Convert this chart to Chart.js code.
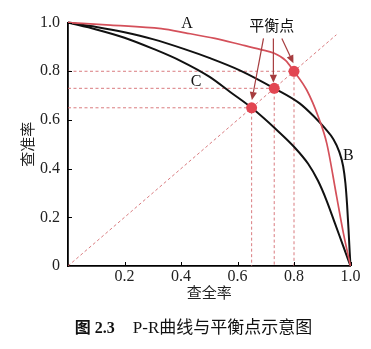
<!DOCTYPE html>
<html>
<head>
<meta charset="utf-8">
<script src="https://cdn.jsdelivr.net/npm/chart.js@4.4.1/dist/chart.umd.min.js"></script>
<style>
  html, body { margin: 0; padding: 0; background: #fff; }
  #wrap { width: 371px; height: 349px; position: relative; }
</style>
</head>
<body>
<div id="wrap"><canvas id="pr" width="371" height="349"></canvas></div>
<script>
// P-R curves (recall on x, precision on y)
const recallA    = [0, 0.15, 0.33, 0.415, 0.52, 0.61, 0.68, 0.73, 0.77, 0.80, 0.845, 0.886, 0.916, 0.951, 0.975, 1.0];
const precisionA = [1.0, 0.99, 0.975, 0.958, 0.935, 0.91, 0.89, 0.874, 0.845, 0.80, 0.723, 0.613, 0.504, 0.285, 0.134, 0];

const recallB    = [0, 0.1, 0.2, 0.3, 0.415, 0.5, 0.61, 0.73, 0.82, 0.87, 0.91, 0.94, 0.96, 0.974, 0.982, 0.988, 0.993, 0.997, 1.0];
const precisionB = [1.0, 0.982, 0.96, 0.932, 0.89, 0.855, 0.803, 0.73, 0.668, 0.615, 0.565, 0.52, 0.47, 0.41, 0.34, 0.25, 0.15, 0.06, 0];

const recallC    = [0, 0.1, 0.2, 0.3, 0.4, 0.5, 0.574, 0.65, 0.739, 0.80, 0.85, 0.885, 0.915, 0.945, 0.972, 1.0];
const precisionC = [1.0, 0.972, 0.938, 0.893, 0.842, 0.778, 0.715, 0.65, 0.559, 0.49, 0.42, 0.35, 0.27, 0.175, 0.089, 0];

// Break-even points (precision = recall) of C, B and A
const breakEven = [0.65, 0.73, 0.80];

// Reference diagonal P = R
const diagonalEnd = 0.95;

// Tick labels
const xTickLabels = ['', '0.2', '0.4', '0.6', '0.8', '1.0'];
const yTickLabels = ['0', '0.2', '0.4', '0.6', '0.8', '1.0'];

// Curve names and their anchor positions (data units)
const curveNames = ['A', 'B', 'C'];
const curveNameAt = [[0.421, 0.994], [0.992, 0.453], [0.453, 0.756]];

// Callout text and its arrows (data units)
const calloutText = '平衡点';
const calloutAt = [0.721, 0.99];
const arrowFrom = [[0.692, 0.935], [0.727, 0.935], [0.757, 0.935]];
const arrowTo   = [[0.651, 0.682], [0.727, 0.753], [0.798, 0.833]];

const captionBold = '图 2.3';
const captionText = 'P-R曲线与平衡点示意图';

const RED = '#d4505a';
const DOT = '#e24652';
const GUIDE = 'rgba(210, 100, 104, 0.85)';
const ARROW = '#a63c3e';
const SERIF = '"Liberation Serif", "Times New Roman", serif';
const CJK = '"Noto Sans CJK SC", sans-serif';

const toPoints = (xs, ys) => xs.map((v, i) => ({ x: v, y: ys[i] }));

const guideSets = breakEven.map(b => ({
  data: [{ x: 0, y: b }, { x: b, y: b }, { x: b, y: 0 }],
  showLine: true, borderColor: GUIDE, borderWidth: 1, borderDash: [3, 2.5],
  pointRadius: 0, order: 3, clip: false
}));

const curveStyle = (color, width) => ({
  showLine: true, borderColor: color, borderWidth: width, pointRadius: 0,
  cubicInterpolationMode: 'monotone', order: 1, clip: false, fill: false
});

function drawArrow(ctx, x0, y0, x1, y1) {
  const ang = Math.atan2(y1 - y0, x1 - x0);
  const len = 8, half = 3.6;
  const bx = x1 - len * Math.cos(ang), by = y1 - len * Math.sin(ang);
  ctx.beginPath();
  ctx.moveTo(x0, y0);
  ctx.lineTo(bx, by);
  ctx.stroke();
  ctx.beginPath();
  ctx.moveTo(x1, y1);
  ctx.lineTo(bx + half * Math.sin(ang), by - half * Math.cos(ang));
  ctx.lineTo(bx - half * Math.sin(ang), by + half * Math.cos(ang));
  ctx.closePath();
  ctx.fill();
}

const decorations = {
  id: 'decorations',
  afterDatasetsDraw(chart) {
    const { ctx, scales: { x, y } } = chart;
    ctx.save();
    // inward tick marks
    ctx.strokeStyle = '#000';
    ctx.lineWidth = 1;
    x.ticks.forEach(t => {
      if (t.value === 0) return;
      const px = Math.round(x.getPixelForValue(t.value)) + 0.5;
      ctx.beginPath(); ctx.moveTo(px, y.bottom); ctx.lineTo(px, y.bottom - 4); ctx.stroke();
    });
    y.ticks.forEach(t => {
      if (t.value === 0) return;
      const py = Math.round(y.getPixelForValue(t.value)) + 0.5;
      ctx.beginPath(); ctx.moveTo(x.left, py); ctx.lineTo(x.left + 4, py); ctx.stroke();
    });

    // curve names
    ctx.fillStyle = '#111';
    ctx.font = '16px ' + SERIF;
    ctx.textAlign = 'center';
    ctx.textBaseline = 'middle';
    curveNames.forEach((n, i) => {
      ctx.fillText(n, x.getPixelForValue(curveNameAt[i][0]), y.getPixelForValue(curveNameAt[i][1]));
    });

    // callout and arrows
    ctx.font = '15px ' + CJK;
    ctx.fillText(calloutText, x.getPixelForValue(calloutAt[0]), y.getPixelForValue(calloutAt[1]));
    ctx.strokeStyle = ARROW;
    ctx.fillStyle = ARROW;
    ctx.lineWidth = 1.2;
    arrowFrom.forEach((f, i) => {
      drawArrow(ctx,
        x.getPixelForValue(f[0]), y.getPixelForValue(f[1]),
        x.getPixelForValue(arrowTo[i][0]), y.getPixelForValue(arrowTo[i][1]));
    });
    ctx.restore();
  },
  afterDraw(chart) {
    const { ctx } = chart;
    ctx.save();
    ctx.fillStyle = '#111';
    ctx.textBaseline = 'middle';
    ctx.textAlign = 'left';
    const boldFont = 'bold 16px "Liberation Serif", ' + CJK;
    const normFont = '17px "Liberation Serif", ' + CJK;
    ctx.font = boldFont;
    const w1 = ctx.measureText(captionBold).width;
    ctx.font = normFont;
    const w2 = ctx.measureText(captionText).width;
    const gap = 18;
    const total = w1 + gap + w2;
    const x0 = 193.5 - total / 2;
    const yc = 329;
    ctx.font = boldFont;
    ctx.fillText(captionBold, x0, yc);
    ctx.font = normFont;
    ctx.fillText(captionText, x0 + w1 + gap, yc);
    ctx.restore();
  }
};

new Chart(document.getElementById('pr'), {
  type: 'scatter',
  data: {
    datasets: [
      { data: breakEven.map(b => ({ x: b, y: b })), showLine: false,
        pointRadius: 5.5, pointHoverRadius: 5.5, pointBackgroundColor: DOT,
        pointBorderWidth: 0, order: 0, clip: false },
      { data: toPoints(recallA, precisionA), ...curveStyle(RED, 1.7) },
      { data: toPoints(recallB, precisionB), ...curveStyle('#111', 2) },
      { data: toPoints(recallC, precisionC), ...curveStyle('#111', 2) },
      { data: [{ x: 0, y: 0 }, { x: diagonalEnd, y: diagonalEnd }],
        showLine: true, borderColor: GUIDE, borderWidth: 1, borderDash: [3, 2.5],
        pointRadius: 0, order: 3, clip: false },
      ...guideSets
    ]
  },
  options: {
    responsive: false,
    animation: false,
    devicePixelRatio: 1,
    layout: { padding: { left: 0, right: 20.5, top: 22.6, bottom: 0 } },
    plugins: { legend: { display: false }, tooltip: { enabled: false } },
    scales: {
      x: {
        type: 'linear', min: 0, max: 1,
        afterFit: s => { s.height = 83; },
        grid: { display: false, drawTicks: false },
        border: { display: true, color: '#000', width: 1.8 },
        ticks: {
          stepSize: 0.2, padding: 1, maxRotation: 0, color: '#222',
          font: { family: SERIF, size: 16 },
          callback: (v, i) => xTickLabels[i]
        },
        title: {
          display: true, text: '查全率', color: '#222',
          font: { family: CJK, size: 15 },
          padding: { top: 0, bottom: 48 }
        }
      },
      y: {
        type: 'linear', min: 0, max: 1,
        afterFit: s => { s.width = 68; },
        grid: { display: false, drawTicks: false },
        border: { display: true, color: '#000', width: 1.8 },
        ticks: {
          stepSize: 0.2, padding: 8, color: '#222',
          font: { family: SERIF, size: 16 },
          callback: (v, i) => yTickLabels[i]
        },
        title: {
          display: true, text: '查准率', color: '#222',
          font: { family: CJK, size: 15 },
          padding: { top: 18, bottom: 0 }
        }
      }
    }
  },
  plugins: [decorations]
});
</script>
</body>
</html>
